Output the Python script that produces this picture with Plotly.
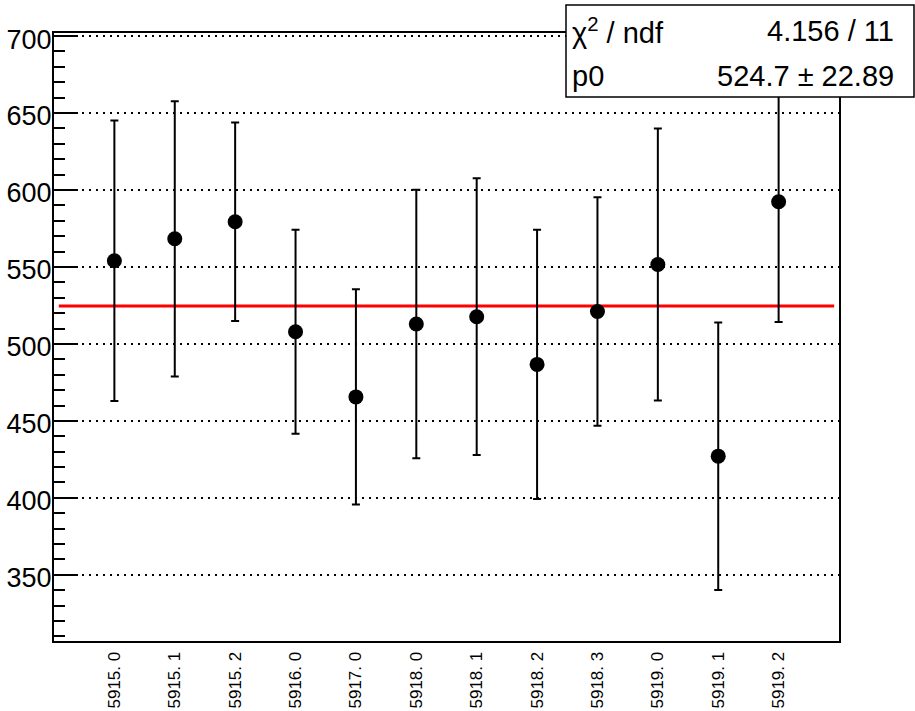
import plotly.graph_objects as go

# ---- data ----
run_labels = ["5915. 0", "5915. 1", "5915. 2", "5916. 0", "5917. 0", "5918. 0",
              "5918. 1", "5918. 2", "5918. 3", "5919. 0", "5919. 1", "5919. 2"]
values = [554.0, 568.3, 579.4, 507.9, 465.6, 512.9, 517.7, 486.7, 521.1, 551.6, 427.1, 592.4]
errors = [91.1, 89.4, 64.5, 66.2, 70.0, 87.2, 89.9, 87.5, 74.2, 88.3, 86.9, 78.1]
fit_p0 = 524.7
fit_p0_err = 22.89
fit_chi2 = 4.156
fit_ndf = 11
fit_range = [-0.92, 11.92]
x_range = [-1, 12]
y_range = [307, 702]

xpos = list(range(len(run_labels)))

W, H = 915, 711
L, R, T, B = 54, 76, 33, 70
pw, ph = W - L - R, H - T - B


def px_x(px):
    return (px - L) / pw


def px_y(py):
    return (H - B - py) / ph


FONT = "Liberation Sans, Arial, Helvetica, sans-serif"

fig = go.Figure()

# fit line (constant p0)
fig.add_trace(go.Scatter(
    x=fit_range, y=[fit_p0, fit_p0], mode="lines",
    line=dict(color="#ff0000", width=3), hoverinfo="skip", showlegend=False))

# data points with error bars
fig.add_trace(go.Scatter(
    x=xpos, y=values, mode="markers",
    marker=dict(color="black", size=15),
    error_y=dict(type="data", array=errors, visible=True,
                 color="black", thickness=2, width=4),
    showlegend=False))

# stats box
fig.add_shape(type="rect", xref="paper", yref="paper",
              x0=px_x(566), x1=px_x(914), y0=px_y(97), y1=px_y(5),
              fillcolor="white", line=dict(color="black", width=1.5), layer="above")

stat_font = dict(family=FONT, size=29, color="black")
fig.add_annotation(xref="paper", yref="paper", x=px_x(570), y=px_y(31),
                   text="χ<sup>2</sup>\u00a0/ ndf", showarrow=False,
                   xanchor="left", yanchor="middle", font=stat_font)
fig.add_annotation(xref="paper", yref="paper", x=px_x(896), y=px_y(31),
                   text=f"{fit_chi2:.3f} / {fit_ndf}", showarrow=False,
                   xanchor="right", yanchor="middle", font=stat_font)
fig.add_annotation(xref="paper", yref="paper", x=px_x(570), y=px_y(76),
                   text="p0", showarrow=False,
                   xanchor="left", yanchor="middle", font=stat_font)
fig.add_annotation(xref="paper", yref="paper", x=px_x(896), y=px_y(76),
                   text=f"{fit_p0:.1f} ± {fit_p0_err:.2f}", showarrow=False,
                   xanchor="right", yanchor="middle", font=stat_font)

fig.update_layout(
    width=W, height=H, autosize=False,
    margin=dict(l=L, r=R, t=T, b=B, pad=0, autoexpand=False),
    paper_bgcolor="white", plot_bgcolor="white",
    font=dict(family=FONT, color="black"),
    showlegend=False,
)

fig.update_xaxes(
    range=x_range, tickmode="array", tickvals=xpos, ticktext=run_labels,
    tickangle=-90, tickfont=dict(size=17, family=FONT, color="black"),
    ticks="", showgrid=False, zeroline=False, automargin=False,
    showline=True, mirror=True, linecolor="black", linewidth=2,
    ticklabelstandoff=2,
)

fig.update_yaxes(
    range=y_range, tick0=0, dtick=50, automargin=False,
    tickfont=dict(size=27, family=FONT, color="black"),
    ticks="inside", ticklen=24, tickwidth=2, tickcolor="black",
    minor=dict(dtick=10, ticks="inside", ticklen=11, tickwidth=1.5,
               tickcolor="black", showgrid=False),
    showgrid=True, gridcolor="black", gridwidth=1.5, griddash="2px,5px",
    zeroline=False,
    showline=True, mirror=True, linecolor="black", linewidth=2,
    ticklabelstandoff=-5, ticklabelshift=3,
)

fig.write_html(
    "out.html",
    config={"displayModeBar": False},
    post_script="document.body.style.margin='0';document.body.style.padding='0';"
                "document.body.style.overflow='hidden';",
)
